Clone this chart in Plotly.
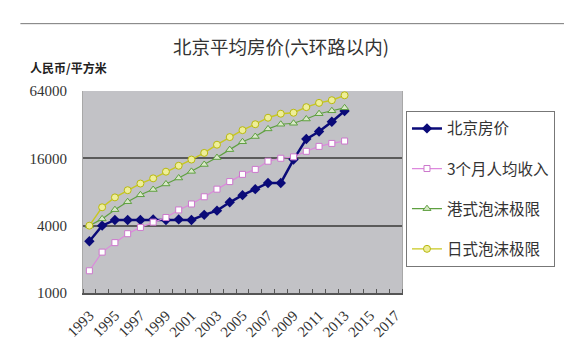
import plotly.graph_objects as go

years = list(range(1993, 2014))
beijing_price = [2900, 4000, 4500, 4500, 4500, 4550, 4500, 4550, 4500, 5000, 5450,
                 6470, 7500, 8480, 9640, 9640, 15600, 23800, 27800, 34000, 42400]
income_3m = [1580, 2320, 2820, 3390, 3860, 4300, 4730, 5530, 6250, 7250, 8480,
             9910, 11500, 12740, 15080, 16030, 16490, 18490, 20460, 21750, 22850]
hk_bubble = [4000, 4600, 5560, 6550, 7550, 8420, 9440, 10670, 12230, 14100, 16260,
             19140, 22500, 25080, 29330, 32280, 32950, 35950, 40080, 42600, 45260]
jp_bubble = [4000, 5840, 7160, 8300, 9520, 10600, 12150, 13730, 15600, 17890, 21180,
             24780, 28570, 32280, 36920, 40080, 40900, 45900, 50120, 52950, 58600]

axis_years = list(range(1993, 2018))
label_years = list(range(1993, 2018, 2))
y_ticks = [1000, 4000, 16000, 64000]

title_text = "北京平均房价(六环路以内)"
unit_text = "人民币/平方米"
names = ["北京房价", "3个月人均收入", "港式泡沫极限", "日式泡沫极限"]

W, H = 567, 352
L, R, T, B = 83, 404, 91, 295

fig = go.Figure()
fig.add_trace(go.Scatter(
    x=years, y=beijing_price, name=names[0], mode="lines+markers", legendgroup="a",
    line=dict(color="#0a0a78", width=2.5),
    marker=dict(symbol="diamond", size=8, color="#0a0a78")))
fig.add_trace(go.Scatter(
    x=years, y=income_3m, name=names[1], mode="lines+markers", legendgroup="b",
    line=dict(color="#dd88dd", width=1.2),
    marker=dict(symbol="square", size=6, color="#ffffff", line=dict(color="#cc77cc", width=1))))
fig.add_trace(go.Scatter(
    x=years, y=hk_bubble, name=names[2], mode="lines+markers", legendgroup="c",
    line=dict(color="#5fa040", width=1.2),
    marker=dict(symbol="triangle-up", size=7, color="#d8e8c8", line=dict(color="#5fa040", width=1))))
fig.add_trace(go.Scatter(
    x=years, y=jp_bubble, name=names[3], mode="lines+markers", legendgroup="d",
    line=dict(color="#c8c820", width=1.4),
    marker=dict(symbol="circle", size=7, color="#eeee99", line=dict(color="#b8b810", width=1))))

serif = "Liberation Serif, Times New Roman, serif"
cjk = "Noto Sans CJK SC"

fig.update_layout(
    width=W, height=H,
    margin=dict(l=L, r=W - R, t=T, b=H - B, pad=0),
    paper_bgcolor="white",
    plot_bgcolor="#c2c2c6",
    showlegend=True,
    title=dict(text=title_text, x=281 / W, xanchor="center", y=1 - 48 / H, yanchor="middle",
               font=dict(family=cjk, size=18.5, color="#333333")),
    legend=dict(x=(408 - L) / (R - L), xanchor="left", y=(B - 111) / (B - T), yanchor="top",
                bgcolor="white", bordercolor="#777777", borderwidth=1,
                font=dict(family=cjk, size=15.5, color="#333333"),
                tracegroupgap=17, itemwidth=30),
    xaxis=dict(
        range=[1992.5, 2017.5], tickmode="array", tickvals=label_years,
        ticktext=[str(v) for v in label_years], tickangle=-45,
        tickfont=dict(family=serif, size=15, color="#333333"),
        ticks="", showgrid=False, zeroline=False, ticklabelstandoff=6,
        showline=True, linecolor="#555555", linewidth=2, mirror=False,
        minor=dict(tickvals=[v - 0.5 for v in axis_years] + [2017.5], ticks="inside",
                   ticklen=4, tickcolor="#555555", tickwidth=1, showgrid=False),
    ),
    yaxis=dict(
        type="log", range=[3, 4.80618], tickmode="array", tickvals=y_ticks,
        ticktext=[str(v) for v in y_ticks],
        tickfont=dict(family=serif, size=15, color="#333333"),
        showgrid=True, gridcolor="#5a5a5a", gridwidth=2,
        showline=True, linecolor="#a8a8a8", linewidth=1, mirror=True,
        zeroline=False, ticks="", ticklabelstandoff=12,
    ),
    annotations=[dict(
        text="<b>" + unit_text + "</b>", xref="paper", yref="paper",
        x=(28 - L) / (R - L), y=(B - 67) / (B - T), xanchor="left", yanchor="middle",
        showarrow=False, font=dict(family=cjk, size=12, color="#222222"))],
    shapes=[dict(type="line", xref="paper", yref="paper",
                 x0=(20 - L) / (R - L), x1=(W - L) / (R - L),
                 y0=(B - 23) / (B - T), y1=(B - 23) / (B - T),
                 line=dict(color="#777777", width=1))],
)

fig.write_html("out.html")
